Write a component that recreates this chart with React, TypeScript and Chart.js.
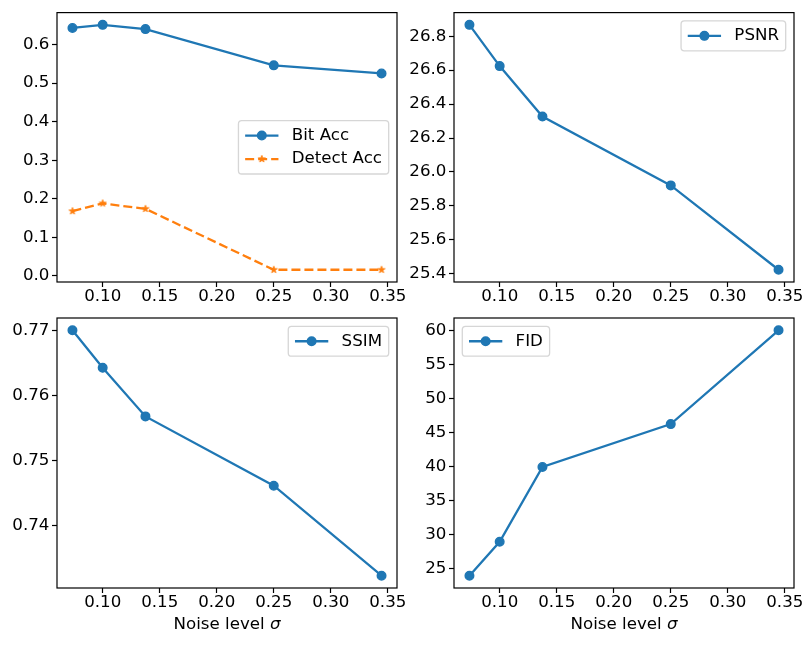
import { useEffect, useRef } from "react";
import Chart, { ChartConfiguration, Plugin } from "chart.js/auto";

// sigma values on the x axis
const noiseLevels = [0.0735, 0.1, 0.1375, 0.25, 0.3445];

const bitAcc = [0.643, 0.651, 0.64, 0.546, 0.525];
const detectAcc = [0.168, 0.188, 0.174, 0.016, 0.016];
const psnr = [26.867, 26.624, 26.327, 25.921, 25.424];
const ssim = [0.7701, 0.7643, 0.7568, 0.7461, 0.7322];
const fid = [24.0, 29.0, 40.0, 46.3, 60.1];

const xTicks = [0.1, 0.15, 0.2, 0.25, 0.3, 0.35];
const accTicks = [0.0, 0.1, 0.2, 0.3, 0.4, 0.5, 0.6];
const psnrTicks = [25.4, 25.6, 25.8, 26.0, 26.2, 26.4, 26.6, 26.8];
const ssimTicks = [0.74, 0.75, 0.76, 0.77];
const fidTicks = [25, 30, 35, 40, 45, 50, 55, 60];

const BLUE = "#1f77b4";
const ORANGE = "#ff7f0e";
const FONT = "'DejaVu Sans', sans-serif";
const FS = 16.67;

const W = 806;
const H = 645;

Chart.defaults.font.family = FONT;
Chart.defaults.font.size = FS;
Chart.defaults.color = "#000";

// matplotlib-style 5% margins
function paddedRange(values: number[]): [number, number] {
  const lo = Math.min(...values);
  const hi = Math.max(...values);
  const m = (hi - lo) * 0.05;
  return [lo - m, hi + m];
}

function makeStar(color: string, r: number): HTMLCanvasElement {
  const c = document.createElement("canvas");
  const size = Math.ceil(r * 2 + 4);
  c.width = size;
  c.height = size;
  const ctx = c.getContext("2d")!;
  const cx = size / 2;
  const cy = size / 2;
  ctx.beginPath();
  for (let i = 0; i < 10; i++) {
    const rad = i % 2 === 0 ? r : r * 0.381966;
    const a = -Math.PI / 2 + (i * Math.PI) / 5;
    const px = cx + rad * Math.cos(a);
    const py = cy + rad * Math.sin(a);
    if (i === 0) ctx.moveTo(px, py);
    else ctx.lineTo(px, py);
  }
  ctx.closePath();
  ctx.fillStyle = color;
  ctx.strokeStyle = color;
  ctx.lineWidth = 1;
  ctx.lineJoin = "miter";
  ctx.fill();
  ctx.stroke();
  return c;
}

const frame: Plugin<"line"> = {
  id: "frame",
  afterDatasetsDraw(chart) {
    const { ctx, chartArea: a } = chart;
    ctx.save();
    ctx.strokeStyle = "#000";
    ctx.lineWidth = 1.2;
    ctx.strokeRect(a.left, a.top, a.right - a.left, a.bottom - a.top);
    ctx.restore();
  },
};

const mplLegend: Plugin<"line"> = {
  id: "mplLegend",
  afterDraw(chart, _args, opts: any) {
    const { ctx, chartArea: a } = chart;
    const pad = 6.7;
    const handle = 33.3;
    const gap = 13.3;
    const rowH = 16.5;
    const spacing = 7;
    const axPad = 8.3;
    const sets = chart.data.datasets as any[];
    ctx.save();
    ctx.font = `${FS}px ${FONT}`;
    const textW = Math.max(...sets.map((d) => ctx.measureText(d.label).width));
    const w = pad * 2 + handle + gap + textW;
    const h = pad * 2 + sets.length * rowH + (sets.length - 1) * spacing;
    const loc: string = opts.loc || "upper right";
    let x = a.right - axPad - w;
    if (loc.includes("left")) x = a.left + axPad;
    let y = a.top + axPad;
    if (loc.startsWith("center")) y = (a.top + a.bottom) / 2 - h / 2;

    ctx.beginPath();
    ctx.roundRect(x, y, w, h, 3.3);
    ctx.fillStyle = "rgba(255,255,255,0.8)";
    ctx.fill();
    ctx.strokeStyle = "rgba(204,204,204,0.8)";
    ctx.lineWidth = 1.3;
    ctx.stroke();

    sets.forEach((d, i) => {
      const cy = y + pad + i * (rowH + spacing) + rowH / 2;
      const x0 = x + pad;
      ctx.beginPath();
      ctx.strokeStyle = d.borderColor;
      ctx.lineWidth = d.borderWidth;
      ctx.setLineDash(d.borderDash || []);
      ctx.moveTo(x0, cy);
      ctx.lineTo(x0 + handle, cy);
      ctx.stroke();
      ctx.setLineDash([]);
      const mx = x0 + handle / 2;
      if (d.pointStyle instanceof HTMLCanvasElement) {
        const s = d.pointStyle;
        ctx.drawImage(s, mx - s.width / 2, cy - s.height / 2);
      } else {
        ctx.beginPath();
        ctx.arc(mx, cy, d.pointRadius, 0, Math.PI * 2);
        ctx.fillStyle = d.backgroundColor;
        ctx.fill();
        ctx.lineWidth = d.pointBorderWidth;
        ctx.strokeStyle = d.borderColor;
        ctx.stroke();
      }
      ctx.fillStyle = "#000";
      ctx.textBaseline = "middle";
      ctx.textAlign = "left";
      ctx.fillText(d.label, x0 + handle + gap, cy);
    });
    ctx.restore();
  },
};

const xTitle: Plugin<"line"> = {
  id: "xTitle",
  afterDraw(chart, _args, opts: any) {
    if (!opts.show) return;
    const { ctx, chartArea: a } = chart;
    ctx.save();
    const plain = "Noise level ";
    const sym = "σ";
    ctx.font = `${FS}px ${FONT}`;
    const w1 = ctx.measureText(plain).width;
    ctx.font = `italic ${FS}px ${FONT}`;
    const w2 = ctx.measureText(sym).width;
    const x0 = (a.left + a.right) / 2 - (w1 + w2) / 2;
    const y = a.bottom + 41.3;
    ctx.fillStyle = "#000";
    ctx.textBaseline = "alphabetic";
    ctx.textAlign = "left";
    ctx.font = `${FS}px ${FONT}`;
    ctx.fillText(plain, x0, y);
    ctx.font = `italic ${FS}px ${FONT}`;
    ctx.fillText(sym, x0 + w1, y);
    ctx.restore();
  },
};

interface Series {
  label: string;
  values: number[];
  color: string;
  dashed?: boolean;
  star?: boolean;
}

interface PanelProps {
  series: Series[];
  yTicks: number[];
  yDecimals: number;
  area: { left: number; top: number; right: number; bottom: number };
  legendLoc: string;
  showXTitle?: boolean;
}

const Panel: React.FC<PanelProps> = ({ series, yTicks, yDecimals, area, legendLoc, showXTitle }) => {
  const canvasRef = useRef<HTMLCanvasElement | null>(null);
  const chartRef = useRef<Chart<"line"> | null>(null);

  useEffect(() => {
    const [xMin, xMax] = paddedRange(noiseLevels);
    const [yMin, yMax] = paddedRange(series.flatMap((s) => s.values));
    const yAxisW = 50;
    const xAxisH = 30;

    const config: ChartConfiguration<"line"> = {
      type: "line",
      data: {
        datasets: series.map((s) => ({
          label: s.label,
          data: noiseLevels.map((x, i) => ({ x, y: s.values[i] })),
          borderColor: s.color,
          backgroundColor: s.color,
          borderWidth: 2.3,
          borderDash: s.dashed ? [9, 4] : [],
          pointStyle: s.star ? makeStar(s.color, 3.6) : "circle",
          pointRadius: 4.3,
          pointBorderWidth: 1.4,
          pointBackgroundColor: s.color,
          pointBorderColor: s.color,
          fill: false,
          tension: 0,
        })) as any,
      },
      options: {
        animation: false,
        responsive: false,
        events: [],
        layout: {
          padding: {
            left: area.left - yAxisW,
            top: area.top,
            right: W - area.right,
            bottom: H - area.bottom - xAxisH,
          },
        },
        scales: {
          x: {
            type: "linear",
            min: xMin,
            max: xMax,
            bounds: "data",
            afterBuildTicks: (scale) => {
              scale.ticks = xTicks.map((v) => ({ value: v }));
            },
            afterFit: (scale) => {
              scale.height = xAxisH;
            },
            grid: {
              display: true,
              drawOnChartArea: false,
              drawTicks: true,
              tickLength: 5,
              tickWidth: 1.2,
              tickColor: "#000",
            },
            border: { display: false },
            ticks: {
              color: "#000",
              font: { family: FONT, size: FS, lineHeight: 1.15 },
              padding: 0,
              maxRotation: 0,
              minRotation: 0,
              autoSkip: false,
              callback: (v) => Number(v).toFixed(2),
            },
          },
          y: {
            type: "linear",
            min: yMin,
            max: yMax,
            bounds: "data",
            afterBuildTicks: (scale) => {
              scale.ticks = yTicks.map((v) => ({ value: v }));
            },
            afterFit: (scale) => {
              scale.width = yAxisW;
            },
            grid: {
              display: true,
              drawOnChartArea: false,
              drawTicks: true,
              tickLength: 5,
              tickWidth: 1.2,
              tickColor: "#000",
            },
            border: { display: false },
            ticks: {
              color: "#000",
              font: { family: FONT, size: FS },
              padding: 2.6,
              autoSkip: false,
              callback: (v) => Number(v).toFixed(yDecimals),
            },
          },
        },
        plugins: {
          legend: { display: false },
          title: { display: false },
          tooltip: { enabled: false },
          mplLegend: { loc: legendLoc },
          xTitle: { show: !!showXTitle },
        } as any,
      },
      plugins: [frame, mplLegend, xTitle],
    };

    if (chartRef.current) chartRef.current.destroy();
    if (canvasRef.current) chartRef.current = new Chart(canvasRef.current, config);

    return () => {
      if (chartRef.current) {
        chartRef.current.destroy();
        chartRef.current = null;
      }
    };
  }, [series, yTicks, yDecimals, area, legendLoc, showXTitle]);

  return (
    <canvas
      ref={canvasRef}
      width={W}
      height={H}
      style={{ position: "absolute", left: 0, top: 0, width: W, height: H }}
    />
  );
};

const accSeries: Series[] = [
  { label: "Bit Acc", values: bitAcc, color: BLUE },
  { label: "Detect Acc", values: detectAcc, color: ORANGE, dashed: true, star: true },
];
const psnrSeries: Series[] = [{ label: "PSNR", values: psnr, color: BLUE }];
const ssimSeries: Series[] = [{ label: "SSIM", values: ssim, color: BLUE }];
const fidSeries: Series[] = [{ label: "FID", values: fid, color: BLUE }];

const areaTL = { left: 57, top: 12, right: 397, bottom: 282 };
const areaTR = { left: 454, top: 12, right: 794, bottom: 282 };
const areaBL = { left: 57, top: 318, right: 397, bottom: 588 };
const areaBR = { left: 454, top: 318, right: 794, bottom: 588 };

export default function App() {
  return (
    <div style={{ position: "absolute", left: 0, top: 0, width: W, height: H, background: "#fff" }}>
      <Panel series={accSeries} yTicks={accTicks} yDecimals={1} area={areaTL} legendLoc="center right" />
      <Panel series={psnrSeries} yTicks={psnrTicks} yDecimals={1} area={areaTR} legendLoc="upper right" />
      <Panel series={ssimSeries} yTicks={ssimTicks} yDecimals={2} area={areaBL} legendLoc="upper right" showXTitle />
      <Panel series={fidSeries} yTicks={fidTicks} yDecimals={0} area={areaBR} legendLoc="upper left" showXTitle />
    </div>
  );
}
